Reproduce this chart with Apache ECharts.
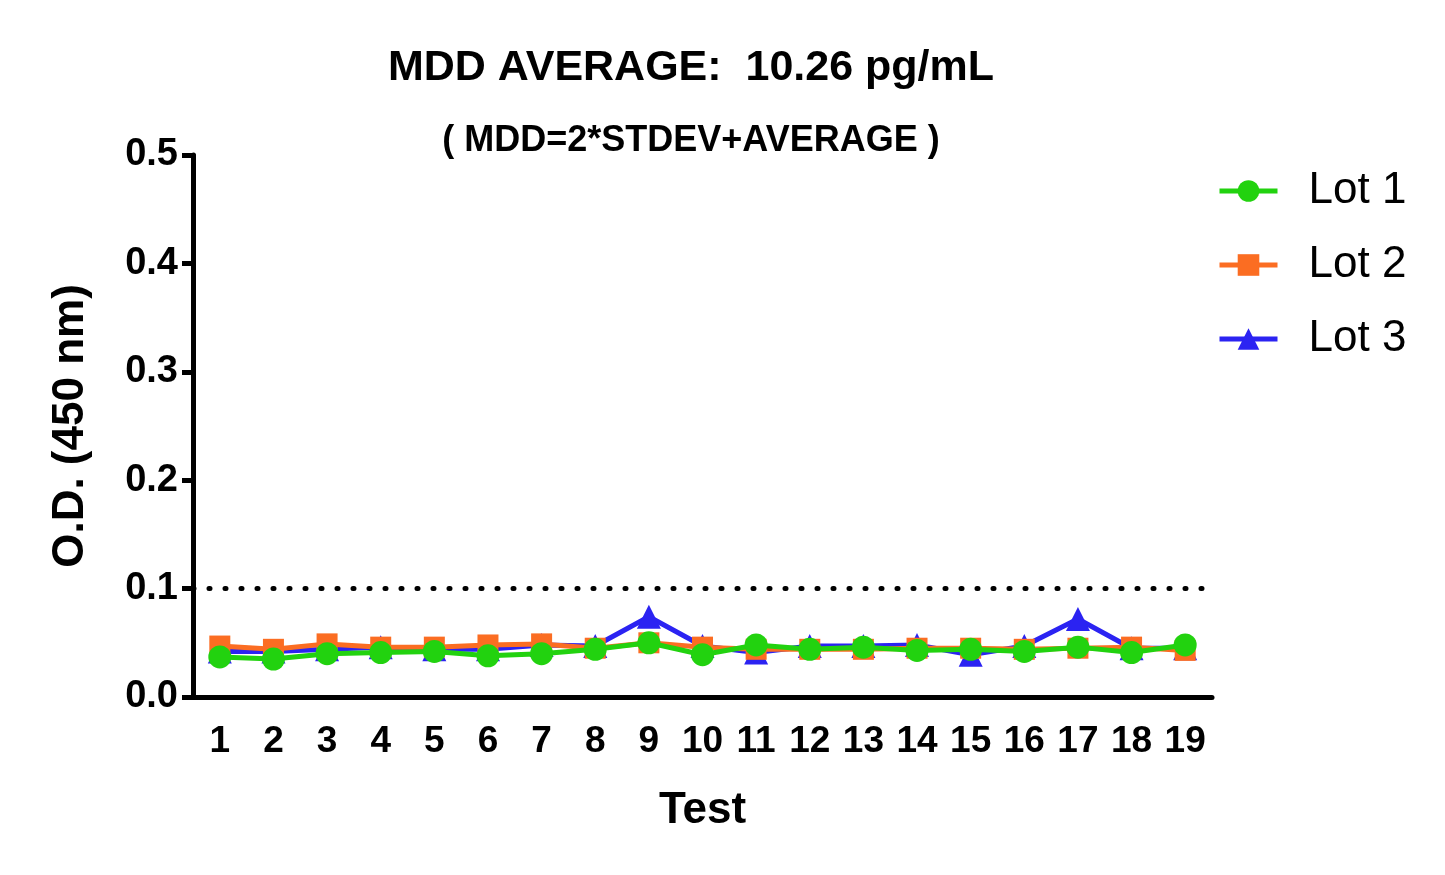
<!DOCTYPE html>
<html>
<head>
<meta charset="utf-8">
<script src="https://cdn.jsdelivr.net/npm/echarts@6/dist/echarts.min.js"></script>
<style>
html,body{margin:0;padding:0;background:#fff;}
#main{width:1445px;height:875px;}
</style>
</head>
<body>
<div id="main"></div>
<script>
// 数据
let tests = ['1','2','3','4','5','6','7','8','9','10','11','12','13','14','15','16','17','18','19'];
let lot1 = [0.037,0.035,0.040,0.041,0.042,0.038,0.040,0.044,0.050,0.039,0.048,0.044,0.046,0.043,0.044,0.042,0.046,0.041,0.048];
let lot2 = [0.047,0.044,0.049,0.046,0.046,0.048,0.049,0.045,0.050,0.046,0.044,0.044,0.044,0.045,0.045,0.044,0.045,0.046,0.043];
let lot3 = [0.042,0.042,0.044,0.046,0.044,0.044,0.048,0.047,0.074,0.047,0.041,0.047,0.047,0.048,0.039,0.047,0.072,0.045,0.045];
let mddLine = 0.1;

let font = 'Arial, "Liberation Sans", sans-serif';
let green = '#22d20f', orange = '#fb6d22', blue = '#2b23f2';

let chart = echarts.init(document.getElementById('main'));
chart.setOption({
    animation: false,
    title: [
        {text: 'MDD AVERAGE:  10.26 pg/mL', left: 686, top: 42, textAlign: 'center',
         textStyle: {fontFamily: font, fontWeight: 'bold', fontSize: 43, color: '#000'}},
        {text: '( MDD=2*STDEV+AVERAGE )', left: 686, top: 118, textAlign: 'center',
         textStyle: {fontFamily: font, fontWeight: 'bold', fontSize: 36, color: '#000'}}
    ],
    legend: {
        orient: 'vertical', left: 1212, top: 164,
        itemWidth: 58, itemHeight: 27, itemGap: 30,
        lineStyle: {width: 5},
        textStyle: {fontFamily: font, fontSize: 44, color: '#000', padding: [0, 0, 0, 26]},
        data: ['Lot 1', 'Lot 2', 'Lot 3']
    },
    grid: {left: 193, right: 233, top: 155, bottom: 178, containLabel: false},
    xAxis: {
        type: 'category', data: tests, boundaryGap: true,
        name: 'Test', nameLocation: 'middle', nameGap: 92,
        nameTextStyle: {fontFamily: font, fontWeight: 'bold', fontSize: 44, color: '#000'},
        axisLine: {lineStyle: {color: '#000', width: 5}},
        axisTick: {alignWithLabel: true, length: 12, lineStyle: {color: '#000', width: 5}},
        axisLabel: {fontFamily: font, fontWeight: 'bold', fontSize: 37, color: '#000', margin: 26, interval: 0}
    },
    yAxis: {
        type: 'value', min: 0, max: 0.5, interval: 0.1,
        name: 'O.D. (450 nm)', nameLocation: 'middle', nameGap: 100,
        nameTextStyle: {fontFamily: font, fontWeight: 'bold', fontSize: 44, color: '#000'},
        axisLine: {show: true, lineStyle: {color: '#000', width: 5}},
        axisTick: {show: true, length: 11, lineStyle: {color: '#000', width: 5}},
        axisLabel: {fontFamily: font, fontWeight: 'bold', fontSize: 38, color: '#000', margin: 15,
                    formatter: v => v.toFixed(1)},
        splitLine: {show: false}
    },
    series: [
        {name: 'Lot 3', type: 'line', data: lot3, symbol: 'triangle', symbolSize: 24,
         color: blue, lineStyle: {width: 5}, z: 2,
         markLine: {silent: true, symbol: 'none', label: {show: false},
                    lineStyle: {type: [1, 15], color: '#000', width: 5, cap: 'round'},
                    data: [{yAxis: mddLine}]}},
        {name: 'Lot 2', type: 'line', data: lot2, symbol: 'rect', symbolSize: 21,
         color: orange, lineStyle: {width: 5}, z: 3},
        {name: 'Lot 1', type: 'line', data: lot1, symbol: 'circle', symbolSize: 23,
         color: green, lineStyle: {width: 5}, z: 4}
    ]
});
</script>
</body>
</html>
